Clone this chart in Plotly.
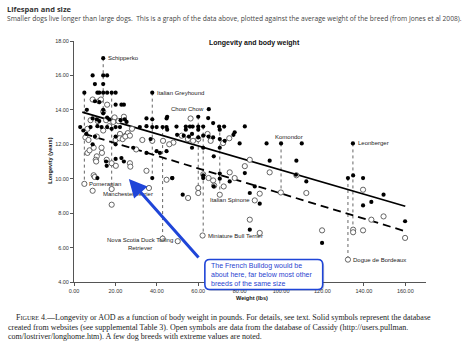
import plotly.graph_objects as go

# ---- data -------------------------------------------------------------
# Solid symbols: database built from websites (weight lbs, longevity years)
solid_x = [14.1, 9.0, 14.1, 16.0, 10.1, 14.1, 5.0, 11.3, 12.2, 14.1, 16.0, 18.2, 20.1,
           37.8, 10.1, 12.2, 20.1, 22.9, 24.1, 6.2, 14.1, 14.1, 16.0, 9.0, 11.0, 12.2,
           17.0, 22.5, 24.5, 25.4, 35.0, 37.8, 44.7, 3.0, 8.0, 11.3, 13.3, 16.0, 18.2,
           20.1, 22.2, 31.8, 35.0, 37.8, 39.9, 42.8, 44.7, 4.5, 6.0, 10.1, 20.1, 9.0,
           20.1, 28.6, 37.0, 35.0, 39.9, 44.7, 15.5, 20.1, 22.9, 24.1, 15.8, 11.3, 37.8,
           47.4,
           45.0, 60.0, 65.1, 64.8, 49.5, 54.0, 56.0, 57.3, 60.0, 62.4, 67.2, 70.1, 72.5,
           82.5, 45.0, 54.0, 60.0, 70.4, 77.6, 49.8, 53.0, 55.5, 57.0, 60.0, 62.4, 65.0,
           67.2, 70.4, 72.8, 77.0, 80.0, 41.5, 57.0, 62.4, 67.5, 70.4, 93.0, 100.0, 110.0,
           94.5, 107.4, 47.5, 62.4, 62.4, 70.4, 70.4, 52.5, 67.5, 75.2, 82.5, 84.9, 87.3,
           89.7, 84.9, 112.2, 107.2,
           119.8, 132.3, 134.8, 139.6, 149.5, 139.6, 143.6, 159.9, 134.7]
solid_y = [17.0, 16.0, 16.0, 16.0, 15.5, 15.5, 15.0, 15.0, 15.0, 15.0, 15.0, 15.0, 15.0,
           15.0, 14.5, 14.45, 14.3, 14.3, 14.3, 14.0, 14.0, 13.8, 13.55, 13.5, 13.45, 13.35,
           13.45, 13.4, 13.45, 13.3, 13.5, 13.45, 13.5, 13.0, 13.0, 13.05, 13.0, 13.0, 12.9,
           13.0, 13.0, 13.0, 13.05, 13.0, 13.0, 13.0, 13.0, 12.8, 12.6, 12.45, 12.45, 12.0,
           12.0, 11.8, 12.3, 11.5, 11.6, 11.6, 11.0, 11.15, 11.2, 11.0, 10.75, 10.04, 10.04,
           10.04,
           13.6, 13.6, 14.04, 13.52, 13.03, 13.03, 13.03, 13.03, 13.03, 13.03, 13.23, 13.03, 13.03,
           13.04, 12.85, 12.85, 12.85, 12.85, 12.7, 12.55, 12.5, 12.45, 12.6, 12.4, 12.5, 12.45,
           12.4, 12.3, 12.2, 12.55, 12.05, 11.5, 11.8, 11.8, 11.3, 11.8, 12.05, 12.05, 12.05,
           11.05, 11.05, 10.04, 10.04, 10.2, 10.3, 10.0, 9.07, 9.55, 9.84, 10.33, 9.17, 9.55,
           8.55, 7.04, 9.84, 10.23,
           6.27, 10.04, 10.19, 10.04, 9.07, 8.45, 8.65, 7.53, 12.05]

# Open symbols: Cassidy database
open_x = [9.0, 12.1, 13.0, 16.0, 14.1, 19.6, 24.1, 8.0, 11.5, 15.5, 19.0, 21.5,
          6.5, 14.1, 17.0, 22.2, 25.0, 26.0, 28.0, 5.5, 7.0, 11.0, 20.1, 22.0, 23.5,
          24.8, 27.0, 13.3, 30.0, 33.0, 37.8, 6.5, 7.5, 9.5, 11.0, 13.5, 10.5, 10.7,
          15.8, 18.2, 27.0, 20.2, 27.2, 35.0, 9.5, 10.0, 9.0, 5.0, 18.2, 18.2, 36.2,
          44.7, 42.8, 50.1,
          56.3, 52.0, 48.0, 55.0, 57.5, 60.0, 64.5, 66.0, 72.0, 75.0, 43.0, 46.0, 84.9,
          82.5, 55.1, 60.0, 60.0, 62.4, 65.0, 67.2, 67.7, 70.4, 72.3, 75.2, 77.6, 89.7,
          87.3, 84.9, 89.7, 62.1, 94.5, 99.9, 112.2, 107.4,
          119.8, 139.6, 143.6, 149.5, 134.8, 134.8, 139.6, 159.9, 132.3]
open_y = [14.6, 14.5, 14.6, 14.3, 13.9, 13.56, 13.6, 13.4, 13.35, 13.4, 13.3, 13.35,
          12.9, 12.8, 13.05, 12.6, 12.5, 12.65, 12.9, 12.4, 12.25, 12.45, 12.25, 12.35, 12.3,
          12.45, 12.5, 11.8, 11.7, 12.25, 12.2, 11.5, 11.65, 11.8, 11.3, 11.5, 11.1, 11.0,
          11.1, 10.9, 10.9, 10.75, 10.7, 10.46, 10.2, 10.1, 9.3, 9.7, 9.4, 8.49, 9.46,
          9.94, 6.52, 6.37,
          13.5, 12.5, 12.1, 12.3, 12.2, 12.3, 12.6, 12.2, 12.07, 12.35, 12.2, 12.0, 11.1,
          10.73, 8.88, 9.46, 9.17, 10.25, 10.04, 9.9, 9.6, 9.07, 9.55, 10.37, 10.04, 9.13,
          8.74, 7.62, 6.85, 6.7, 10.37, 9.2, 9.17, 10.2,
          7.0, 9.36, 7.62, 7.81, 7.04, 6.89, 7.0, 6.56, 5.3]

# Linear fits for the two databases
fit_solid_x = [4.0, 160.0]
fit_solid_y = [13.87, 8.40]
fit_open_x = [5.0, 160.0]
fit_open_y = [12.61, 6.95]

# Breeds with extreme values: the two databases joined by a dotted line
link_x = [5.0, 14.1, 18.2, 37.8, 42.8, 60.0, 62.4, 70.4, 100.0, 132.3, 134.7]
link_top = [15.0, 17.0, 15.0, 15.0, 13.0, 13.6, 13.03, 13.03, 12.05, 10.04, 12.05]
link_bottom = [9.7, 13.9, 9.4, 10.04, 6.52, 9.17, 6.7, 9.07, 9.2, 5.3, 6.95]

# Breed names: (name, x, y, side)
breeds = [("Schipperko", 14.1, 17.0, "right"),
          ("Italian Greyhound", 37.8, 15.0, "right"),
          ("Chow Chow", 65.1, 14.04, "left"),
          ("Komondor", 100.0, 12.05, "above"),
          ("Leonberger", 134.7, 12.05, "right"),
          ("Pomeranian", 5.0, 9.7, "right"),
          ("Manchester Terrier", 18.2, 9.4, "below"),
          ("Nova Scotia Duck Tolling<br>Retriever", 42.8, 6.52, "belowleft"),
          ("Italian Spinone", 87.3, 8.74, "left"),
          ("Miniature Bull Terrier", 62.1, 6.7, "right"),
          ("Dogue de Bordeaux", 132.3, 5.3, "right")]

x_ticks = [0, 20, 40, 60, 80, 100, 120, 140, 160]
y_ticks = [4, 6, 8, 10, 12, 14, 16, 18]

# ---- layout geometry ----------------------------------------------------
WIDTH, HEIGHT = 474, 348
L, T, R, B = 74, 41, 47.6, 65.5
PW, PH = WIDTH - L - R, HEIGHT - T - B


def px(xp):
    return (xp - L) / PW


def py(yp):
    return (HEIGHT - B - yp) / PH


LABEL_FONT = dict(family="Liberation Sans, Arial, sans-serif", size=6, color="#222")
AX_COLOR = "#555"
BLUE = "#1f45d8"

fig = go.Figure()

# dotted connectors
lx, ly = [], []
for xv, top, bot in zip(link_x, link_top, link_bottom):
    lx += [xv, xv, None]
    ly += [top, bot, None]
fig.add_trace(go.Scatter(x=lx, y=ly, mode="lines", hoverinfo="skip",
                         line=dict(color="#666", width=1, dash="dot")))

# fitted lines
fig.add_trace(go.Scatter(x=fit_solid_x, y=fit_solid_y, mode="lines",
                         line=dict(color="black", width=1.8)))
fig.add_trace(go.Scatter(x=fit_open_x, y=fit_open_y, mode="lines",
                         line=dict(color="black", width=1.8, dash="8px,5px")))

# data points
fig.add_trace(go.Scatter(x=open_x, y=open_y, mode="markers",
                         marker=dict(symbol="circle", size=5.2, color="white",
                                     line=dict(color="#555", width=0.9))))
fig.add_trace(go.Scatter(x=solid_x, y=solid_y, mode="markers",
                         marker=dict(symbol="circle", size=4.2, color="black",
                                     line=dict(width=0))))

annotations = []
for name, xv, yv, side in breeds:
    a = dict(x=xv, y=yv, xref="x", yref="y", text=name, showarrow=False,
             font=LABEL_FONT)
    if side == "right":
        a.update(xanchor="left", yanchor="middle", xshift=3)
    elif side == "left":
        a.update(xanchor="right", yanchor="middle", xshift=-3)
    elif side == "above":
        a.update(xanchor="center", yanchor="bottom", xshift=8, yshift=1)
    elif side == "below":
        a.update(xanchor="left", yanchor="middle", xshift=-11, yshift=-5)
    elif side == "belowleft":
        a.update(xanchor="center", yanchor="middle", xshift=-23, yshift=-5)
    annotations.append(a)

# titles
annotations += [
    dict(x=px(255), y=py(43), xref="paper", yref="paper", showarrow=False,
         text="<b>Longevity and body weight</b>", xanchor="center", yanchor="middle",
         font=dict(family="Liberation Sans, Arial, sans-serif", size=7, color="#111")),
    dict(x=px(252), y=py(299), xref="paper", yref="paper", showarrow=False,
         text="<b>Weight (lbs)</b>", xanchor="center", yanchor="middle",
         font=dict(family="Liberation Sans, Arial, sans-serif", size=5.6, color="#111")),
    dict(x=px(50), y=py(161), xref="paper", yref="paper", showarrow=False,
         text="<b>Longevity (years)</b>", textangle=-90, xanchor="center", yanchor="middle",
         font=dict(family="Liberation Sans, Arial, sans-serif", size=5.6, color="#111")),
    dict(x=px(5), y=py(9), xref="paper", yref="paper", showarrow=False,
         text="<b>Lifespan and size</b>", xanchor="left", yanchor="middle",
         font=dict(family="Open Sans, sans-serif", size=7.5, color="#333")),
    dict(x=px(5), y=py(18.5), xref="paper", yref="paper", showarrow=False,
         text="Smaller dogs live longer than large dogs.&nbsp; This is a graph of the data above, "
              "plotted against the average weight of the breed (from Jones et al 2008).",
         xanchor="left", yanchor="middle",
         font=dict(family="Open Sans, sans-serif", size=6.7, color="#444")),
]

# figure caption
SERIF = dict(family="Liberation Serif, Times New Roman, serif", size=8.0, color="#222")
caption = [
    (15, 318.5, "F<span style='font-size:6.1px'>IGURE</span> 4.—Longevity or AOD as a function of body "
                "weight in pounds. For details, see text. Solid symbols represent the database"),
    (7.3, 327.7, "created from websites (see supplemental Table 3). Open symbols are data from the "
                 "database of Cassidy (http://users.pullman."),
    (7.3, 336.9, "com/lostriver/longhome.htm). A few dog breeds with extreme values are noted."),
]
for xp, yp, txt in caption:
    annotations.append(dict(x=px(xp), y=py(yp), xref="paper", yref="paper", showarrow=False,
                            text=txt, xanchor="left", yanchor="middle", font=SERIF,
                            borderpad=0))

# callout text and arrow
annotations += [
    dict(x=px(209), y=py(275), xref="paper", yref="paper", showarrow=False,
         text="The French Bulldog would be<br>about here, far below most other<br>"
              "breeds of the same size",
         align="left", xanchor="left", yanchor="middle",
         font=dict(family="Liberation Sans, Arial, sans-serif", size=7, color="#2a3fcf")),
    dict(x=26.5, y=9.98, xref="x", yref="y", text="", showarrow=True,
         ax=71, ay=80, arrowhead=2, arrowsize=1.2, arrowwidth=3, arrowcolor=BLUE),
]


def rounded_box(x0, y0, x1, y1, r):
    # pixel box converted to paper coordinates, with rounded corners
    rx, ry = r / PW, r / PH
    X0, X1 = px(x0), px(x1)
    Y0, Y1 = py(y0), py(y1)  # Y0 top, Y1 bottom
    return (f"M {X0 + rx},{Y0} L {X1 - rx},{Y0} Q {X1},{Y0} {X1},{Y0 - ry} "
            f"L {X1},{Y1 + ry} Q {X1},{Y1} {X1 - rx},{Y1} "
            f"L {X0 + rx},{Y1} Q {X0},{Y1} {X0},{Y1 + ry} "
            f"L {X0},{Y0 - ry} Q {X0},{Y0} {X0 + rx},{Y0} Z")


shapes = [
    dict(type="path", xref="paper", yref="paper", path=rounded_box(206.5, 261.5, 324.5, 291.5, 5),
         fillcolor="rgba(0,0,0,0.18)", line=dict(width=0), layer="above"),
    dict(type="path", xref="paper", yref="paper", path=rounded_box(205, 260, 323, 290, 5),
         fillcolor="white", line=dict(color=BLUE, width=1.6), layer="above"),
]

fig.update_layout(
    width=WIDTH, height=HEIGHT,
    margin=dict(l=L, r=R, t=T, b=B, pad=0),
    paper_bgcolor="white", plot_bgcolor="white",
    showlegend=False,
    annotations=annotations,
    shapes=shapes,
    xaxis=dict(range=[0, 170], tickvals=x_ticks,
               ticktext=[f"{v:.2f}" for v in x_ticks],
               showgrid=False, zeroline=False, showline=True, linecolor=AX_COLOR, linewidth=1,
               ticks="outside", ticklen=3, tickcolor=AX_COLOR,
               tickfont=dict(family="Liberation Sans, Arial, sans-serif", size=5.5, color="#333")),
    yaxis=dict(range=[4, 18], tickvals=y_ticks,
               ticktext=[f"{v:.2f}" for v in y_ticks],
               showgrid=False, zeroline=False, showline=True, linecolor=AX_COLOR, linewidth=1,
               ticks="outside", ticklen=3, tickcolor=AX_COLOR,
               tickfont=dict(family="Liberation Sans, Arial, sans-serif", size=5.5, color="#333")),
)

fig.write_html("out.html")
